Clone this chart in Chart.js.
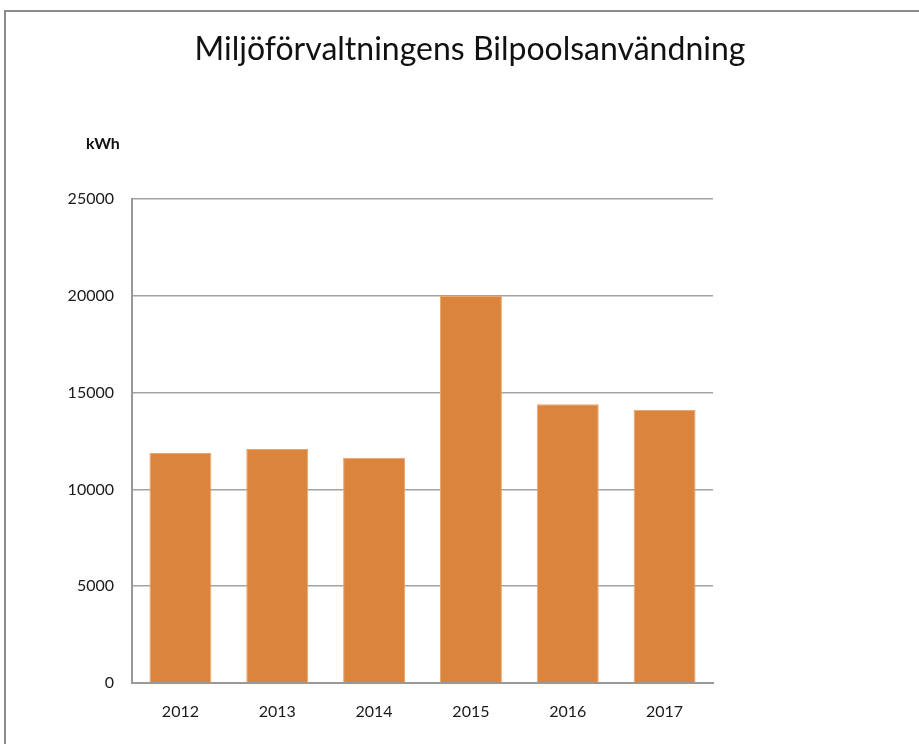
<!DOCTYPE html>
<html>
<head>
<meta charset="utf-8">
<script src="https://cdn.jsdelivr.net/npm/chart.js@4/dist/chart.umd.min.js"></script>
<style>
  body { margin: 0; background: #fff; }
  #wrap { position: relative; width: 919px; height: 744px; }
</style>
</head>
<body>
<div id="wrap"><canvas id="myChart" width="919" height="744"></canvas></div>
<script>
// data
var years = ['2012', '2013', '2014', '2015', '2016', '2017'];
var kwh = [11880, 12090, 11630, 19990, 14400, 14100];
var yTicks = [0, 5000, 10000, 15000, 20000, 25000];

var chartTitle = 'Miljöförvaltningens Bilpoolsanvändning';
var unitLabel = 'kWh';

// border, title and unit text
var decor = {
  id: 'decor',
  beforeDraw: function (chart) {
    var c = chart.ctx;
    c.save();
    c.strokeStyle = '#8c8c8c';
    c.lineWidth = 2;
    c.beginPath();
    c.moveTo(5, 744);
    c.lineTo(5, 11);
    c.lineTo(919, 11);
    c.stroke();
    c.restore();
  },
  afterDraw: function (chart) {
    var c = chart.ctx;
    c.save();
    c.fillStyle = '#111';
    c.textAlign = 'center';
    c.textBaseline = 'middle';
    c.font = '32px Lato';
    c.fillText(chartTitle, 470, 50);
    c.font = 'bold 16px Lato';
    c.textAlign = 'left';
    c.fillText(unitLabel, 86, 144);
    c.restore();
  }
};

var ctx = document.getElementById('myChart').getContext('2d');
var chart = new Chart(ctx, {
  type: 'bar',
  data: {
    labels: years,
    datasets: [{
      data: kwh,
      backgroundColor: '#DB843E',
      borderColor: '#E9A66E',
      borderWidth: 1,
      barPercentage: 0.64,
      categoryPercentage: 1
    }]
  },
  options: {
    responsive: false,
    animation: false,
    layout: { padding: { top: 199, left: 0, right: 206, bottom: 0 } },
    plugins: {
      legend: { display: false },
      tooltip: { enabled: false }
    },
    scales: {
      x: {
        grid: { display: false, drawTicks: false },
        border: { color: '#999', width: 2 },
        ticks: { color: '#1a1a1a', font: { family: 'Lato', size: 16 }, padding: 19 },
        afterFit: function (s) { s.height = 61; }
      },
      y: {
        min: 0,
        max: 25000,
        afterBuildTicks: function (s) { s.ticks = yTicks.map(function (v) { return { value: v }; }); },
        grid: { color: '#a3a3a3', lineWidth: 1.5, drawTicks: false },
        border: { color: '#999', width: 2 },
        ticks: {
          color: '#1a1a1a',
          font: { family: 'Lato', size: 16 },
          padding: 18,
          callback: function (v) { return String(v); }
        },
        afterFit: function (s) { s.width = 132; }
      }
    }
  },
  plugins: [decor]
});
</script>
</body>
</html>
